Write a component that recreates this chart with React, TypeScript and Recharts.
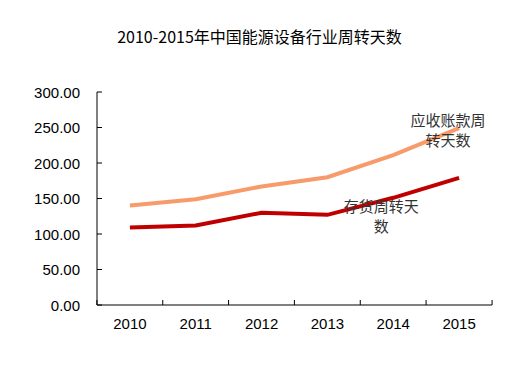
import { LineChart, Line, XAxis, YAxis } from 'recharts'

const years = ['2010', '2011', '2012', '2013', '2014', '2015']
const receivableDays = [140, 149, 167, 180, 211, 249]
const inventoryDays = [109, 112, 130, 127, 151, 179]
const yTicks = [0, 50, 100, 150, 200, 250, 300]

const data = years.map((year, i) => ({
  year,
  receivable: receivableDays[i],
  inventory: inventoryDays[i],
}))

const cjk = '"Noto Sans CJK SC", sans-serif'
const latin = '"Liberation Sans", Arial, sans-serif'

function YTick({ x, y, payload }: any) {
  return (
    <g>
      <line x1={x + 17} x2={x + 22} y1={y} y2={y} stroke="#000" />
      <text x={x} y={y} textAnchor="end" dominantBaseline="central" fontSize={15} fontFamily={latin} fill="#000">
        {Number(payload.value).toFixed(2)}
      </text>
    </g>
  )
}

function XTick({ x, y, payload, index }: any) {
  const half = 33
  return (
    <g>
      <line x1={x - half} x2={x - half} y1={y} y2={y - 5} stroke="#000" />
      {index === years.length - 1 && <line x1={x + half} x2={x + half} y1={y} y2={y - 5} stroke="#000" />}
      <text x={x} y={y + 18} textAnchor="middle" dominantBaseline="central" fontSize={15} fontFamily={latin} fill="#000">
        {payload.value}
      </text>
    </g>
  )
}

function seriesLabel(at: number, lines: string[], dx: number, dy: number) {
  return (props: any) => {
    if (props.index !== at) return <g key={props.index} />
    return (
      <g key={props.index}>
        {lines.map((t, i) => (
          <text
            key={t}
            x={props.x + dx}
            y={props.y + dy + i * 20}
            textAnchor="middle"
            dominantBaseline="central"
            fontSize={15}
            fontFamily={cjk}
            fill="#333"
          >
            {t}
          </text>
        ))}
      </g>
    )
  }
}

export default function App() {
  return (
    <div style={{ position: 'absolute', left: 0, top: 0, width: 519, height: 382, background: '#fff' }}>
      <div
        style={{
          position: 'absolute',
          left: 0,
          width: 519,
          top: 26,
          textAlign: 'center',
          fontFamily: cjk,
          fontSize: 16,
          lineHeight: '20px',
          color: '#000',
        }}
      >
        2010-2015年中国能源设备行业周转天数
      </div>
      <LineChart width={519} height={382} data={data} margin={{ top: 92, right: 27, bottom: 47, left: 0 }}>
        <XAxis
          dataKey="year"
          scale="band"
          tickLine={false}
          tickSize={0}
          tickMargin={0}
          height={30}
          axisLine={{ stroke: '#000' }}
          tick={<XTick />}
          interval={0}
        />
        <YAxis
          width={97}
          domain={[0, 300]}
          ticks={yTicks}
          tickLine={false}
          tickSize={0}
          tickMargin={17}
          axisLine={{ stroke: '#000' }}
          tick={<YTick />}
          interval={0}
        />
        <Line
          dataKey="receivable"
          stroke="#F79B6B"
          strokeWidth={4}
          dot={false}
          isAnimationActive={false}
          label={seriesLabel(5, ['应收账款周', '转天数'], -11, -9)}
        />
        <Line
          dataKey="inventory"
          stroke="#C00000"
          strokeWidth={4}
          dot={false}
          isAnimationActive={false}
          label={seriesLabel(4, ['存货周转天', '数'], -12, 8)}
        />
      </LineChart>
    </div>
  )
}
